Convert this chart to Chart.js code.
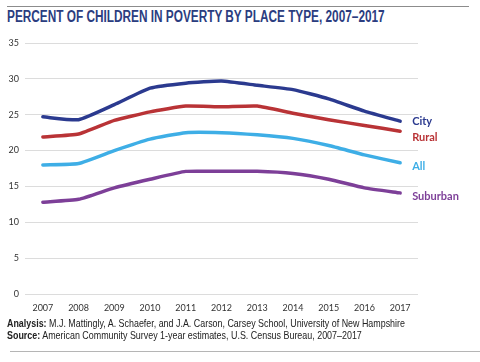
<!doctype html>
<html lang="en">
<head>
<meta charset="utf-8">
<title>Percent of children in poverty by place type</title>
<style>
  body { margin: 0; background: #fff; }
  #wrap { position: relative; width: 480px; height: 362px; overflow: hidden; }
  #topline { position: absolute; left: 7px; top: 6px; width: 462px; border-top: 1px solid #8c8c8c; }
  #title { position: absolute; left: 7px; top: 8px; font-family: "Liberation Sans", Arial, sans-serif;
           font-weight: bold; font-size: 16px; color: #2b3d80; white-space: nowrap; transform-origin: 0 0; }
  #chart { position: absolute; left: 0; top: 0; }
  .foot { position: absolute; left: 7px; font-family: "Liberation Sans", Arial, sans-serif;
          font-size: 11px; color: #222; white-space: nowrap; transform-origin: 0 0; }
  #botline { position: absolute; left: 10px; top: 351px; width: 470px; border-top: 1px solid #b5b5b5; }
</style>
</head>
<body>
<div id="wrap">
  <div id="topline"></div>
  <div id="title" data-w="378">PERCENT OF CHILDREN IN POVERTY BY PLACE TYPE, 2007–2017</div>
  <canvas id="chart" width="480" height="362"></canvas>
  <div class="foot" data-w="398" style="top:317px"><b>Analysis:</b> M.J. Mattingly, A. Schaefer, and J.A. Carson, Carsey School, University of New Hampshire</div>
  <div class="foot" data-w="355" style="top:329px"><b>Source:</b> American Community Survey 1-year estimates, U.S. Census Bureau, 2007–2017</div>
  <div id="botline"></div>
</div>

<script src="https://cdn.jsdelivr.net/npm/chart.js"></script>
<script>
  const years = ["2007", "2008", "2009", "2010", "2011", "2012", "2013", "2014", "2015", "2016", "2017"];
  const city = [24.7, 24.3, 26.4, 28.7, 29.4, 29.7, 29.1, 28.5, 27.2, 25.5, 24.1];
  const rural = [21.9, 22.3, 24.2, 25.4, 26.2, 26.1, 26.2, 25.2, 24.3, 23.5, 22.7];
  const all = [18.0, 18.2, 20.0, 21.6, 22.5, 22.5, 22.2, 21.7, 20.7, 19.4, 18.3];
  const suburban = [12.8, 13.2, 14.8, 16.0, 17.1, 17.1, 17.1, 16.8, 16.0, 14.8, 14.1];
  const seriesNames = ["City", "Rural", "All", "Suburban"];
  const yTicks = [0, 5, 10, 15, 20, 25, 30, 35];

  const colors = ["#2b3a8f", "#b93336", "#3eaee6", "#7d3f98"];
  const labelShift = [0, 6, 4, 4];

  // squeeze the condensed-looking texts to their width in the picture
  document.querySelectorAll("[data-w]").forEach(el => {
    const s = el.dataset.w / el.scrollWidth;
    el.style.transform = "scaleX(" + s + ")";
  });

  // draw series names next to the last point
  const endLabels = {
    id: "endLabels",
    afterDatasetsDraw(chart) {
      const c = chart.ctx;
      c.save();
      c.font = "bold 11px Lato, sans-serif";
      c.textBaseline = "middle";
      chart.data.datasets.forEach((ds, i) => {
        const pts = chart.getDatasetMeta(i).data;
        const p = pts[pts.length - 1];
        c.fillStyle = colors[i];
        c.fillText(ds.label, p.x + 12, p.y + labelShift[i]);
      });
      c.restore();
    }
  };

  const ctx = document.getElementById("chart");
  new Chart(ctx, {
    type: "line",
    data: {
      labels: years,
      datasets: [city, rural, all, suburban].map((d, i) => ({
        label: seriesNames[i],
        data: d,
        borderColor: colors[i],
        borderWidth: 3.5,
        pointRadius: 0,
        tension: 0.15,
        borderCapStyle: "round",
        borderJoinStyle: "round"
      }))
    },
    options: {
      responsive: false,
      animation: false,
      layout: { padding: { top: 43, right: 62, left: 0, bottom: 0 } },
      plugins: { legend: { display: false }, tooltip: { enabled: false } },
      scales: {
        x: {
          offset: true,
          grid: { display: false },
          border: { display: false },
          ticks: { color: "#333", font: { family: "Lato", size: 9 }, padding: 1, maxRotation: 0 },
          afterFit(a) { a.height = 68; }
        },
        y: {
          min: 0,
          max: 35,
          afterBuildTicks(a) { a.ticks = yTicks.map(v => ({ value: v })); },
          grid: { color: "#dcdcdc", lineWidth: 1, drawTicks: false },
          border: { display: false },
          ticks: { color: "#333", font: { family: "Lato", size: 9 }, padding: 6 },
          afterFit(a) { a.width = 25; }
        }
      }
    },
    plugins: [endLabels]
  });
</script>
</body>
</html>
